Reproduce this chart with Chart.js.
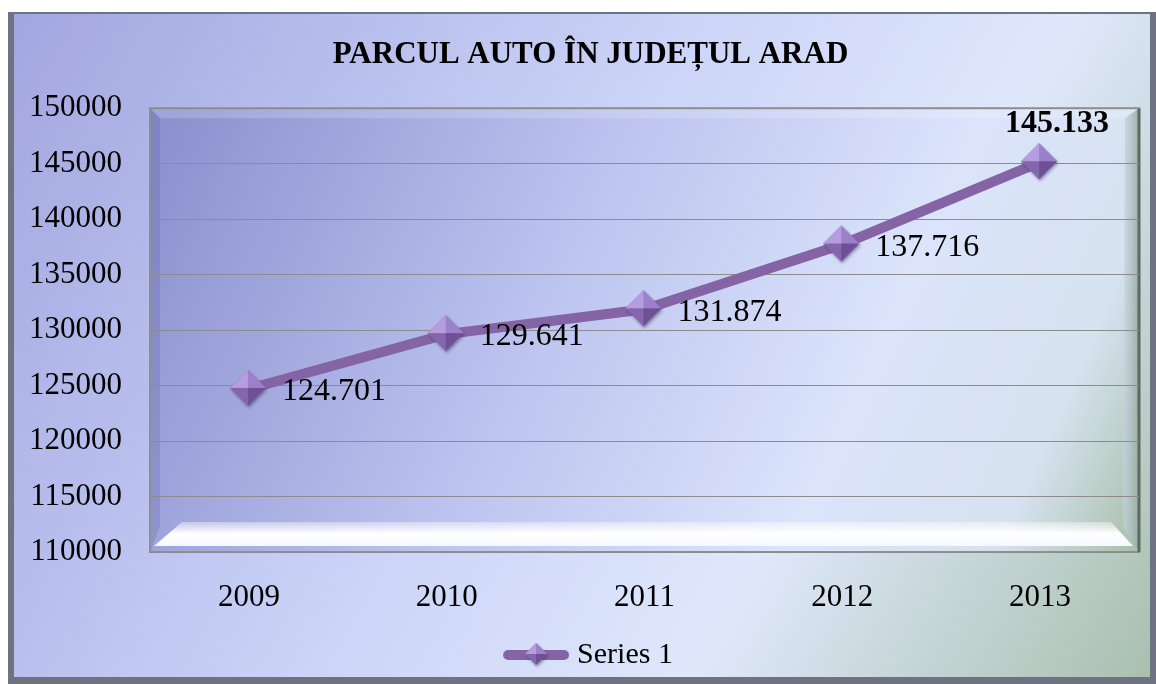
<!DOCTYPE html>
<html>
<head>
<meta charset="utf-8">
<script src="https://cdn.jsdelivr.net/npm/chart.js@4.4.0/dist/chart.umd.min.js"></script>
<style>
  html, body { margin: 0; padding: 0; background: #fff; }
</style>
</head>
<body>
<canvas id="myChart" width="1156" height="684"></canvas>
<script>
// data
var years = ["2009", "2010", "2011", "2012", "2013"];
var cars = [124701, 129641, 131874, 137716, 145133];
var yMin = 110000, yMax = 150000, yStep = 5000;

var lineColor = "#8564a6";
var serif = "'Liberation Serif', 'Times New Roman', serif";

function fmt(v) {
  return String(v).replace(/\B(?=(\d{3})+(?!\d))/g, ".");
}

// 3d looking diamond marker
function drawDiamond(g, cx, cy, r) {
  g.save();
  g.shadowColor = "rgba(40,20,60,0.4)";
  g.shadowBlur = 3;
  g.shadowOffsetX = 1;
  g.shadowOffsetY = 2;
  g.beginPath();
  g.moveTo(cx, cy - r); g.lineTo(cx + r, cy); g.lineTo(cx, cy + r); g.lineTo(cx - r, cy);
  g.closePath();
  g.fillStyle = "#8a6aae";
  g.fill();
  g.restore();
  var faces = [
    [[cx - r, cy], [cx, cy - r], "#b69de0"],
    [[cx, cy - r], [cx + r, cy], "#9d80cc"],
    [[cx + r, cy], [cx, cy + r], "#6f5096"],
    [[cx, cy + r], [cx - r, cy], "#8466ad"]
  ];
  faces.forEach(function (f) {
    g.beginPath();
    g.moveTo(f[0][0], f[0][1]); g.lineTo(f[1][0], f[1][1]); g.lineTo(cx, cy);
    g.closePath();
    g.fillStyle = f[2];
    g.fill();
  });
}

function markerImage(r) {
  var c = document.createElement("canvas");
  c.width = r * 2 + 8; c.height = r * 2 + 8;
  drawDiamond(c.getContext("2d"), r + 3, r + 3, r);
  return c;
}

function legendImage() {
  var c = document.createElement("canvas");
  c.width = 68; c.height = 26;
  var g = c.getContext("2d");
  g.strokeStyle = lineColor;
  g.lineWidth = 10;
  g.lineCap = "round";
  g.beginPath(); g.moveTo(6, 13); g.lineTo(62, 13); g.stroke();
  drawDiamond(g, 34, 12, 11);
  return c;
}

var marker = markerImage(18);
var legendIcon = legendImage();

// outer frame + 3d plot wall
var frame = {
  id: "frame",
  afterLayout: function (chart) {
    // title and legend sit a bit right of the canvas centre in the original
    if (chart.titleBlock) { chart.titleBlock.left += 16; chart.titleBlock.right += 16; }
    if (chart.legend) { chart.legend.left += 17; chart.legend.right += 17; }
  },
  beforeDraw: function (chart) {
    var ctx = chart.ctx, a = chart.chartArea;
    var L = a.left, T = a.top, R = a.right, B = a.bottom;
    ctx.save();
    ctx.fillStyle = "#6f7280";
    ctx.fillRect(8, 12, 1148, 672);
    var g = ctx.createLinearGradient(10, 14, 1150, 678);
    g.addColorStop(0, "#a2a6df");
    g.addColorStop(0.45, "#ccd4f8");
    g.addColorStop(0.7, "#dfe8fb");
    g.addColorStop(1, "#a9c0ae");
    ctx.fillStyle = g;
    ctx.fillRect(14, 14, 1136, 663);

    // plot wall
    var w = ctx.createLinearGradient(L, T, R, B);
    w.addColorStop(0, "#8a8fcd");
    w.addColorStop(0.4, "#bcc3ef");
    w.addColorStop(0.7, "#dbe4fb");
    w.addColorStop(0.88, "#d6e2ef");
    w.addColorStop(1, "#a8bea9");
    ctx.fillStyle = w;
    ctx.fillRect(L, T, R - L, B - T);

    // top bevel
    ctx.fillStyle = "rgba(255,255,255,0.18)";
    ctx.beginPath();
    ctx.moveTo(L, T); ctx.lineTo(R, T); ctx.lineTo(R - 14, T + 10); ctx.lineTo(L + 10, T + 10);
    ctx.closePath(); ctx.fill();
    // left bevel
    ctx.fillStyle = "rgba(70,70,140,0.18)";
    ctx.beginPath();
    ctx.moveTo(L, T); ctx.lineTo(L + 10, T + 10); ctx.lineTo(L + 10, B - 26); ctx.lineTo(L, B);
    ctx.closePath(); ctx.fill();
    // right bevel
    var rb = ctx.createLinearGradient(R - 16, 0, R, 0);
    rb.addColorStop(0, "rgba(200,210,225,0.6)");
    rb.addColorStop(1, "rgba(150,170,160,0.9)");
    ctx.fillStyle = rb;
    ctx.beginPath();
    ctx.moveTo(R, T); ctx.lineTo(R, B); ctx.lineTo(R - 16, B - 26); ctx.lineTo(R - 14, T + 10);
    ctx.closePath(); ctx.fill();
    // floor
    var fl = ctx.createLinearGradient(0, B - 30, 0, B - 4);
    fl.addColorStop(0, "rgba(255,255,255,0.35)");
    fl.addColorStop(0.45, "#ffffff");
    fl.addColorStop(1, "#f4f7ff");
    ctx.fillStyle = fl;
    ctx.beginPath();
    ctx.moveTo(L + 4, B - 6); ctx.lineTo(R - 6, B - 6); ctx.lineTo(R - 28, B - 30); ctx.lineTo(L + 32, B - 30);
    ctx.closePath(); ctx.fill();

    ctx.strokeStyle = "#8e8e96";
    ctx.lineWidth = 2;
    ctx.strokeRect(L, T, R - L, B - T);
    ctx.strokeStyle = "#5d6a60";
    ctx.lineWidth = 3;
    ctx.beginPath(); ctx.moveTo(R, T); ctx.lineTo(R, B); ctx.stroke();
    ctx.restore();
  }
};

var valueLabels = {
  id: "valueLabels",
  afterDatasetsDraw: function (chart) {
    var ctx = chart.ctx, pts = chart.getDatasetMeta(0).data;
    ctx.save();
    ctx.fillStyle = "#000";
    ctx.textBaseline = "middle";
    pts.forEach(function (p, i) {
      var txt = fmt(cars[i]);
      if (i === pts.length - 1) {
        ctx.font = "bold 32px " + serif;
        ctx.textAlign = "center";
        ctx.fillText(txt, p.x + 17, p.y - 38);
      } else {
        ctx.font = "32px " + serif;
        ctx.textAlign = "left";
        ctx.fillText(txt, p.x + 33, p.y + 3);
      }
    });
    ctx.restore();
  }
};

new Chart("myChart", {
  type: "line",
  data: {
    labels: years,
    datasets: [{
      label: "Series 1",
      data: cars,
      borderColor: lineColor,
      backgroundColor: lineColor,
      borderWidth: 10,
      tension: 0,
      pointStyle: marker,
      pointRadius: 18,
      pointHoverRadius: 18,
      clip: false
    }]
  },
  options: {
    responsive: false,
    animation: false,
    devicePixelRatio: 1,
    layout: { autoPadding: false, padding: { left: 10, right: 17, top: 14, bottom: 4 } },
    plugins: {
      title: {
        display: true,
        text: "PARCUL AUTO ÎN JUDEȚUL ARAD",
        color: "#000",
        font: { family: serif, size: 31, weight: "bold" },
        padding: { top: 22, bottom: 35 }
      },
      legend: {
        position: "bottom",
        labels: {
          color: "#000",
          font: { family: serif, size: 30 },
          usePointStyle: true,
          pointStyleWidth: 52,
          boxHeight: 28,
          generateLabels: function (chart) {
            return [{ text: "Series 1", pointStyle: legendIcon, datasetIndex: 0, fontColor: "#000", lineWidth: 0 }];
          }
        }
      },
      tooltip: { enabled: false }
    },
    scales: {
      x: {
        offset: true,
        grid: { display: false },
        border: { display: false },
        ticks: { color: "#000", font: { family: serif, size: 31 }, padding: 19 },
        afterFit: function (s) { s.height = 78; }
      },
      y: {
        min: yMin,
        max: yMax,
        grid: { color: "#8c8c8c", lineWidth: 1, drawTicks: false },
        border: { display: false },
        ticks: {
          stepSize: yStep,
          color: "#000",
          font: { family: serif, size: 31 },
          padding: 28,
          callback: function (v) { return String(v); }
        },
        afterFit: function (s) { s.width = 140; }
      }
    }
  },
  plugins: [frame, valueLabels]
});
</script>
</body>
</html>
